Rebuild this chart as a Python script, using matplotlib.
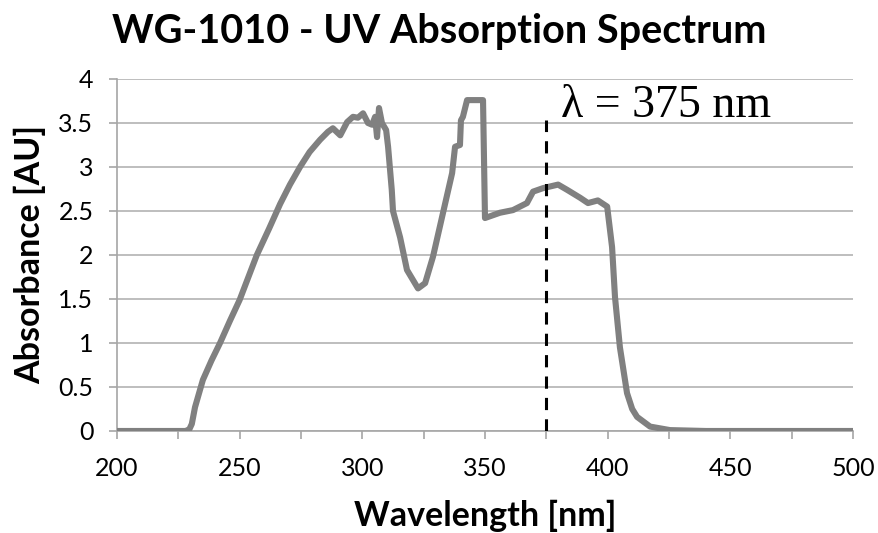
import matplotlib
matplotlib.use("Agg")
import matplotlib.pyplot as plt
from matplotlib.ticker import MultipleLocator

wavelength = [200, 228, 229.5, 230.5, 231.8, 235, 238.5, 242, 246, 250, 257, 262, 266.5, 270.5,
              274.6, 278.5, 282.8, 286, 288, 291,
              293.8, 296.2, 298.2, 300.3, 302.3, 304, 305.2, 306, 306.8, 308, 309.7, 310.5,
              312, 312.5, 315.4, 318.2, 322.7, 325.6, 328.8, 332.9, 336.6, 337.8, 339.8, 340.2,
              341, 342.7, 349.2, 350, 356.1, 361.4, 367.1, 369.6, 373.7, 379.8, 383.5, 388.8,
              392, 396, 399.8, 401.8, 403, 405, 407.9, 410, 412, 417.3, 425.4, 440, 500]
absorbance = [0, 0, 0.02, 0.08, 0.27, 0.58, 0.8, 1.0, 1.25, 1.49, 2.0, 2.3, 2.58, 2.8,
              3.0, 3.17, 3.31, 3.4, 3.44, 3.36,
              3.51, 3.57, 3.56, 3.61, 3.5, 3.48, 3.57, 3.34, 3.67, 3.5, 3.42, 3.23,
              2.74, 2.5, 2.2, 1.83, 1.62, 1.68, 1.98, 2.48, 2.93, 3.23, 3.25, 3.53,
              3.57, 3.76, 3.76, 2.42, 2.48, 2.51, 2.59, 2.72, 2.76, 2.8, 2.74, 2.65,
              2.59, 2.62, 2.55, 2.09, 1.52, 0.95, 0.43, 0.25, 0.16, 0.05, 0.01, 0.0, 0.0]

marker_wavelength = 375
marker_top = 3.53
x_ticks = [200, 250, 300, 350, 400, 450, 500]
y_ticks = [0, 0.5, 1, 1.5, 2, 2.5, 3, 3.5, 4]
y_tick_labels = ["0", "0.5", "1", "1.5", "2", "2.5", "3", "3.5", "4"]

fig = plt.figure(figsize=(8.79, 5.33), dpi=100)
ax = fig.add_axes([0.1331, 0.1914, 0.8373, 0.6604])

ax.plot(wavelength, absorbance, color="#808080", lw=4.4, solid_joinstyle="round",
        solid_capstyle="round", zorder=3)
ax.plot([marker_wavelength, marker_wavelength], [0, marker_top], color="black", lw=2.2,
        ls=(0, (4, 3)), zorder=4)
ax.text(381, 3.57, "λ = 375 nm", family="Liberation Serif", fontsize=33,
        ha="left", va="baseline", color="black")

ax.set_xlim(200, 500)
ax.set_ylim(0, 4)
ax.set_xticks(x_ticks)
ax.set_yticks(y_ticks)
ax.set_yticklabels(y_tick_labels)
ax.xaxis.set_minor_locator(MultipleLocator(25))
ax.grid(axis="y", color="#b3b3b3", lw=1.2, zorder=0)
ax.set_axisbelow(True)
for s in ["top", "right"]:
    ax.spines[s].set_visible(False)
for s in ["left", "bottom"]:
    ax.spines[s].set_color("#a6a6a6")
    ax.spines[s].set_linewidth(1.2)
ax.tick_params(axis="both", which="both", direction="out", color="#a6a6a6", width=1.2,
               length=6, labelsize=18, labelcolor="black")
ax.tick_params(axis="x", which="both", pad=13)
ax.tick_params(axis="y", which="both", pad=11)
for lab in ax.get_xticklabels() + ax.get_yticklabels():
    lab.set_family("Lato")

ax.set_xlabel("Wavelength [nm]", family="Lato", fontweight="bold", fontsize=24.5, labelpad=14)
ax.set_ylabel("Absorbance [AU]", family="Lato", fontweight="bold", fontsize=24.5, labelpad=9)
fig.suptitle("WG-1010 - UV Absorption Spectrum", family="Lato", fontweight="bold",
             fontsize=28.5, x=0.5, y=0.975)

fig.savefig("out.png", dpi=100)
